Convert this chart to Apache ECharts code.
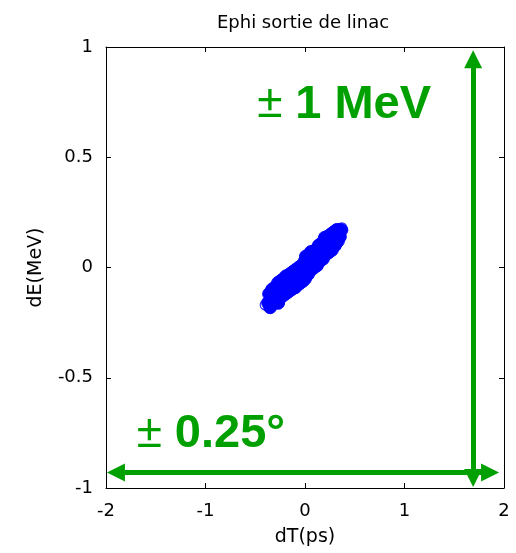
<!DOCTYPE html>
<html>
<head>
<meta charset="utf-8">
<script src="https://cdn.jsdelivr.net/npm/echarts@6/dist/echarts.min.js"></script>
<style>
  html, body { margin: 0; padding: 0; background: #fff; }
  #chart { width: 516px; height: 553px; }
</style>
</head>
<body>
<div id="chart"></div>
<script>
// Phase-space cloud at the linac exit: time offset (ps) vs energy offset (MeV)
const coreDT = [-0.37,-0.36,-0.35,-0.34,-0.33,-0.32,-0.31,-0.30,-0.29,-0.28,-0.27,-0.27,-0.26,-0.25,-0.24,-0.23,-0.22,-0.21,-0.20,-0.19,-0.19,-0.18,-0.17,-0.16,-0.15,-0.14,-0.13,-0.12,-0.11,-0.10,-0.10,-0.09,-0.08,-0.07,-0.06,-0.06,-0.05,-0.04,-0.03,-0.02,-0.01,0.00,0.00,0.01,0.01,0.02,0.03,0.04,0.05,0.06,0.06,0.07,0.08,0.09,0.10,0.11,0.12,0.13,0.14,0.15,0.16,0.17,0.18,0.19,0.20,0.20,0.21,0.22,0.23,0.24,0.25,0.26,0.27,0.27,0.28,0.29,0.30,0.31,0.32,0.33,0.34,0.35,0.36];
const coreDE = [-0.16,-0.12,-0.18,-0.13,-0.10,-0.16,-0.12,-0.09,-0.15,-0.11,-0.07,-0.16,-0.14,-0.10,-0.06,-0.13,-0.09,-0.05,-0.12,-0.08,-0.04,-0.04,-0.11,-0.07,-0.03,-0.10,-0.06,-0.02,-0.09,-0.05,-0.09,-0.01,-0.08,-0.04,0.00,-0.07,-0.07,-0.03,0.01,-0.06,-0.02,0.03,-0.05,0.00,0.05,0.04,-0.03,0.02,0.06,-0.01,0.07,0.03,0.07,0.00,0.05,0.08,0.01,0.06,0.10,0.03,0.07,0.11,0.04,0.09,0.12,0.135,0.06,0.10,0.14,0.07,0.11,0.15,0.09,0.08,0.13,0.16,0.10,0.14,0.17,0.12,0.15,0.14,0.17];
// isolated particles at both ends of the bunch
const tailDT = [-0.40, 0.38, 0.37];
const tailDE = [-0.17, 0.17, 0.18];

const xTicks = [-2, -1, 0, 1, 2];
const yTicks = [-1, -0.5, 0, 0.5, 1];

// extent annotations: phase window (horizontal) and energy window (vertical)
const hArrowY = -0.93, hArrowX0 = -1.90, hArrowX1 = 1.86;
const vArrowX = 1.69, vArrowY0 = -0.955, vArrowY1 = 0.945;

const GREEN = '#00a000';
const FONT = 'DejaVu Sans, sans-serif';
const BIG = 'Liberation Sans, Arial, sans-serif';

const zip = (a, b) => a.map((v, i) => [v, b[i]]);

const chart = echarts.init(document.getElementById('chart'), null, { renderer: 'canvas' });

const axisCommon = {
  axisLine: { show: true, onZero: false, lineStyle: { color: '#000', width: 1 } },
  axisTick: { show: true, inside: true, length: 5, lineStyle: { color: '#000' } },
  splitLine: { show: false }
};

chart.setOption({
  animation: false,
  backgroundColor: '#fff',
  title: {
    text: 'Ephi sortie de linac',
    left: 298, top: 9, textAlign: 'center',
    textStyle: { fontFamily: FONT, fontSize: 18, fontWeight: 'normal', color: '#000' }
  },
  grid: { left: 106, right: 12, top: 47, bottom: 65, show: false },
  xAxis: [
    Object.assign({
      type: 'value', min: -2, max: 2, interval: 1, position: 'bottom',
      name: 'dT(ps)', nameLocation: 'middle', nameGap: 40,
      nameTextStyle: { fontFamily: FONT, fontSize: 19, color: '#000' },
      axisLabel: { fontFamily: FONT, fontSize: 18, color: '#000', margin: 14,
        formatter: v => xTicks.includes(v) ? String(v) : '' }
    }, axisCommon),
    Object.assign({
      type: 'value', min: -2, max: 2, interval: 1, position: 'top',
      axisLabel: { show: false }
    }, axisCommon)
  ],
  yAxis: [
    Object.assign({
      type: 'value', min: -1, max: 1, interval: 0.5, position: 'left',
      name: 'dE(MeV)', nameLocation: 'middle', nameGap: 60,
      nameTextStyle: { fontFamily: FONT, fontSize: 19, color: '#000' },
      axisLabel: { fontFamily: FONT, fontSize: 18, color: '#000', margin: 13,
        formatter: v => yTicks.includes(v) ? String(v) : '' }
    }, axisCommon),
    Object.assign({
      type: 'value', min: -1, max: 1, interval: 0.5, position: 'right',
      axisLabel: { show: false }
    }, axisCommon)
  ],
  series: [
    {
      type: 'scatter', name: 'core', data: zip(coreDT, coreDE),
      symbol: 'circle', symbolSize: 13,
      itemStyle: { color: '#0000ff', borderColor: '#0000ff', borderWidth: 1, opacity: 1 },
      z: 3
    },
    {
      type: 'scatter', name: 'tail', data: zip(tailDT, tailDE),
      symbol: 'circle', symbolSize: 10,
      itemStyle: { color: 'rgba(0,0,0,0)', borderColor: '#3333ff', borderWidth: 1.2, opacity: 1 },
      z: 2
    },
    {
      type: 'line', data: [], silent: true,
      markLine: {
        silent: true, animation: false,
        symbol: ['triangle', 'triangle'], symbolSize: [18, 18],
        lineStyle: { color: GREEN, width: 5, type: 'solid' },
        label: { show: false },
        data: [
          [{ coord: [hArrowX0, hArrowY] }, { coord: [hArrowX1, hArrowY] }],
          [{ coord: [vArrowX, vArrowY0] }, { coord: [vArrowX, vArrowY1] }]
        ]
      },
      z: 5
    }
  ]
});

// annotation texts anchored in data coordinates
const labels = [
  { pos: [-1.69, -0.864], num: '0.25°' },
  { pos: [-0.48, 0.632], num: '1 MeV' }
];
chart.setOption({
  graphic: labels.map(l => {
    const p = chart.convertToPixel({ xAxisIndex: 0, yAxisIndex: 0 }, l.pos);
    return {
      type: 'text', x: p[0], y: p[1], z: 10,
      style: {
        text: '{pm|±} {b|' + l.num + '}',
        textVerticalAlign: 'bottom',
        rich: {
          pm: { fontFamily: BIG, fontSize: 46, fontWeight: 'normal', fill: GREEN, color: GREEN },
          b: { fontFamily: BIG, fontSize: 47, fontWeight: 'bold', fill: GREEN, color: GREEN }
        },
        fill: GREEN,
        font: 'normal 46px ' + BIG
      }
    };
  })
});
</script>
</body>
</html>
